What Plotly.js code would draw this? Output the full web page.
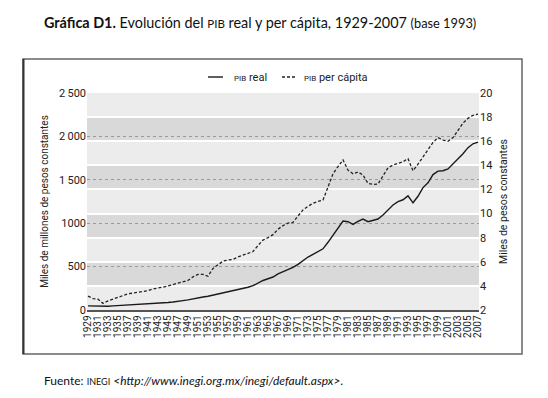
<!DOCTYPE html>
<html>
<head>
<meta charset="utf-8">
<script src="https://cdn.plot.ly/plotly-3.0.1.min.js"></script>
<style>
html,body{margin:0;padding:0;background:#fff;}
#chart{width:548px;height:398px;}
</style>
</head>
<body>
<div id="chart"></div>
<script>
const years = [1929,1930,1931,1932,1933,1934,1935,1936,1937,1938,1939,1940,1941,1942,1943,1944,1945,1946,1947,1948,1949,
1950,1951,1952,1953,1954,1955,1956,1957,1958,1959,1960,1961,1962,1963,1964,1965,1966,1967,1968,1969,
1970,1971,1972,1973,1974,1975,1976,1977,1978,1979,1980,1981,1982,1983,1984,1985,1986,1987,1988,1989,
1990,1991,1992,1993,1994,1995,1996,1997,1998,1999,2000,2001,2002,2003,2004,2005,2006,2007];

// PIB real, miles de millones de pesos constantes (eje izquierdo)
const pibReal = [48,46,46,40,44,47,50,54,58,60,63,65,70,74,77,83,86,92,97,108,117,
130,140,150,158,170,185,198,211,225,235,248,262,280,310,340,360,380,415,440,470,
490,525,570,610,641,675,705,780,864,945,1025,1017,987,1020,1048,1017,1030,1048,1095,1155,
1210,1248,1270,1315,1235,1310,1410,1465,1560,1600,1605,1625,1680,1740,1800,1870,1915,1935];

// PIB per cápita, miles de pesos constantes (eje derecho)
const pibPerCapita = [3.15,2.95,2.9,2.55,2.75,2.9,3.05,3.25,3.35,3.4,3.45,3.5,3.6,3.75,3.8,3.9,4.0,4.1,4.2,4.3,4.45,
4.75,4.95,4.95,4.8,5.45,5.75,6.05,6.15,6.2,6.4,6.55,6.65,6.85,7.35,7.8,8.0,8.25,8.7,9.0,9.2,
9.27,9.8,10.3,10.6,10.85,11.0,11.12,12.2,13.3,13.9,14.45,13.6,13.3,13.45,13.2,12.5,12.42,12.45,13.1,13.8,
14.02,14.15,14.3,14.55,13.55,14.1,14.7,15.2,15.9,16.3,16.1,16.0,16.3,16.9,17.5,17.9,18.15,18.25];

const xTickVals = [1929,1931,1933,1935,1937,1939,1941,1943,1945,1947,1949,1951,1953,1955,1957,1959,1961,1963,1965,1967,1969,
1971,1973,1975,1977,1979,1981,1983,1985,1987,1989,1991,1993,1995,1997,1999,2001,2003,2005,2007];
const yLeftVals = [0,500,1000,1500,2000,2500];
const yLeftText = ['0','500','1000','1\u2009500','2\u2009000','2\u2009500'];
const yRightVals = [2,4,6,8,10,12,14,16,18,20];
const darkBands = [[4,6],[8,10],[12,14],[16,18]];

const sans = 'Roboto, Liberation Sans, sans-serif';
const tickFont = {family:sans, size:11, color:'#222'};

const traces = [
  {x:years, y:pibReal, type:'scatter', mode:'lines', name:'PIB real', yaxis:'y',
   line:{color:'#1a1a1a', width:1.4}, showlegend:false, hoverinfo:'skip'},
  {x:years, y:pibPerCapita, type:'scatter', mode:'lines', name:'PIB per cápita', yaxis:'y2',
   line:{color:'#222', width:1.3, dash:'3px,2px'}, showlegend:false, hoverinfo:'skip'}
];

const L = 87, R = 479, T = 93, B = 310;
const W = R - L, H = B - T;
const px = v => (v - L) / W;
const py = v => (B - v) / H;

const shapes = darkBands.map(b => ({type:'rect', xref:'paper', yref:'y2', x0:0, x1:1, y0:b[0], y1:b[1],
  fillcolor:'#d9d9d9', line:{width:0}, layer:'below'}));
// outer frame
shapes.push({type:'rect', xref:'paper', yref:'paper', x0:px(23), x1:px(522), y0:py(354), y1:py(59),
  line:{color:'#666', width:1.5}, fillcolor:'rgba(0,0,0,0)', layer:'above'});
shapes.push({type:'line', xref:'paper', yref:'paper', x0:px(23.5), x1:px(23.5), y0:py(354), y1:py(59),
  line:{color:'#333', width:2}, layer:'above'});
// legend samples
shapes.push({type:'line', xref:'paper', yref:'paper', x0:px(208), x1:px(223), y0:py(77), y1:py(77),
  line:{color:'#1a1a1a', width:1.4}});
shapes.push({type:'line', xref:'paper', yref:'paper', x0:px(282), x1:px(296), y0:py(77), y1:py(77),
  line:{color:'#222', width:1.3, dash:'3px,2px'}});

const annFont = {family:sans, size:11, color:'#222'};
const annotations = [
  {xref:'paper', yref:'paper', x:px(232), y:py(77), xanchor:'left', yanchor:'middle', showarrow:false,
   text:'<span style="font-size:8px">PIB</span> real', font:annFont},
  {xref:'paper', yref:'paper', x:px(302), y:py(77), xanchor:'left', yanchor:'middle', showarrow:false,
   text:'<span style="font-size:8px">PIB</span> per cápita', font:annFont},
  {xref:'paper', yref:'paper', x:px(42), y:py(380), xanchor:'left', yanchor:'middle', showarrow:false,
   text:'Fuente: <span style="font-size:9px">INEGI</span> <i>&lt;http://www.inegi.org.mx/inegi/default.aspx&gt;</i>.',
   font:{family:'Lato, Open Sans, sans-serif', size:12, color:'#111'}},
  {xref:'paper', yref:'paper', x:px(260), y:py(22), xanchor:'center', yanchor:'middle', showarrow:false,
   text:'<b>Gráfica D1.</b> Evolución del <span style="font-size:11.5px">PIB</span> real y per cápita, 1929-2007 <span style="font-size:12.8px">(base 1993)</span>',
   font:{family:'Lato, Open Sans, sans-serif', size:14.4, color:'#111'}}
];

const layout = {
  width:548, height:398,
  margin:{l:L, r:548-R, t:T, b:398-B, pad:0},
  paper_bgcolor:'#ffffff',
  plot_bgcolor:'#ececec',
  showlegend:false,
  xaxis:{range:[1928.8,2007.2], tickmode:'array', tickvals:xTickVals, tickangle:-90,
    tickfont:{family:sans, size:10, color:'#222'},
    showgrid:false, zeroline:false, showline:true, linecolor:'#555', linewidth:1.5,
    ticks:'', ticklen:0, automargin:false},
  yaxis:{range:[0,2500], tickmode:'array', tickvals:yLeftVals, ticktext:yLeftText,
    tickfont:tickFont, showgrid:true, gridcolor:'#9a9a9a', gridwidth:1, griddash:'dot',
    zeroline:false, showline:false, ticks:'', automargin:false,
    title:{text:'Miles de millones de pesos constantes', font:{family:sans, size:10, color:'#222'}, standoff:8}},
  yaxis2:{range:[2,20], overlaying:'y', side:'right', tickmode:'array', tickvals:yRightVals,
    tickfont:tickFont, showgrid:true, gridcolor:'#ffffff', gridwidth:2,
    zeroline:false, showline:false, ticks:'', automargin:false,
    title:{text:'Miles de pesos constantes', font:{family:sans, size:10.5, color:'#222'}, standoff:8}},
  shapes:shapes,
  annotations:annotations
};

Plotly.newPlot('chart', traces, layout, {displayModeBar:false, staticPlot:true});
</script>
</body>
</html>
